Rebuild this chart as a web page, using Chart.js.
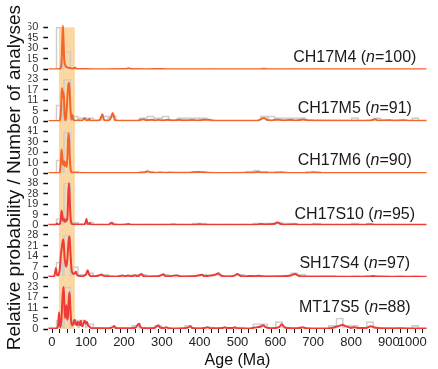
<!DOCTYPE html>
<html>
<head>
<meta charset="utf-8">
<script src="https://cdn.jsdelivr.net/npm/chart.js@4.4.1/dist/chart.umd.min.js"></script>
<style>
html,body{margin:0;padding:0;background:#fff;}
canvas{display:block;}
</style>
</head>
<body>
<canvas id="c" width="438" height="369"></canvas>
<script>
// ---------- DATA ----------
const sampleNames = ["CH17M4", "CH17M5", "CH17M6", "CH17S10", "SH17S4", "MT17S5"];
const sampleN = [100, 91, 90, 95, 97, 88];
const panelMax = [60, 23, 41, 38, 28, 23];          // top tick of each panel
const bandRange = [28, 70];                          // highlighted age window (Ma)
const xTitle = "Age (Ma)";
const yTitle = "Relative probability / Number of analyses";

// histogram bin starts (Ma), 20 Ma bins
const binStarts = [0,20,40,60,80,100,120,140,160,180,200,220,240,260,280,300,320,340,360,380,
  400,420,440,460,480,500,520,540,560,580,600,620,640,660,680,700,720,740,760,780,
  800,820,840,860,880,900,920,940,960,980];

// histogram counts per bin
const histCH17M4 = [0,60,26,2,0,1,0,0,0,0, 2,0,0,1,0,1,0,0,0,0, 0,1,0,0,0,0,0,0,2,0, 0,0,1,0,0,1,0,0,0,0, 0,0,0,1,0,0,0,0,1,0];
const histCH17M5 = [0,9,23,3,2,2,1,3,3,0, 0,0,2,3,2,3,1,2,2,2, 2,1,0,0,0,0,0,0,3,3, 2,2,2,2,1,0,0,0,0,0, 2,0,1,2,1,1,1,0,2,0];
const histCH17M6 = [0,13,40,2,0,0,0,0,0,0, 0,0,2,2,1,1,1,0,1,2, 2,1,1,0,1,0,2,3,2,1, 2,1,0,1,2,2,0,0,1,0, 0,1,0,1,0,0,1,0,0,0];
const histCH17S10 = [1,6,38,3,1,3,1,0,2,1, 1,1,0,1,0,1,1,1,0,2, 2,1,0,1,0,1,0,2,2,2, 3,2,2,1,0,2,1,0,1,0, 2,0,2,1,0,1,0,1,1,0];
const histSH17S4 = [1,10,28,7,2,3,1,2,1,1, 1,2,2,1,1,2,1,1,1,1, 2,1,2,1,1,2,1,1,1,1, 1,1,3,2,0,0,1,1,0,0, 1,0,1,1,1,0,1,0,1,0];
const histMT17S5 = [0,5,23,5,5,3,1,0,1,0, 0,2,1,0,2,1,0,0,2,1, 0,1,0,1,1,1,0,3,3,0, 4,1,0,1,0,0,0,2,6,2, 2,0,4,1,0,0,1,0,2,0];

// probability density curves: [age (Ma), value in panel units]
const pdpCH17M4 = [[0,0.3],[20,0.3],[30,0.5],[33,2],[35,10],[37,40],[38.5,62],[40,45],[42,15],[45,6],[48,3.5],[52,2.5],[56,2],[60,1.5],[64,1],[68,2],[71,2.2],[74,1],[80,0.5],[100,0.4],[150,0.3],[205,0.4],[212,1.5],[220,0.4],[260,0.3],[300,0.6],[310,0.3],[400,0.3],[560,0.3],[570,0.8],[580,0.3],[700,0.3],[1000,0.3]];
const pdpCH17M5 = [[0,0.2],[25,0.2],[30,0.5],[32,2],[34,8],[35.5,16],[37,18],[38.5,13],[40,16],[41.5,12],[43,4],[45,0.5],[47,2],[49,8],[51,15],[53,20],[55,21],[56.5,17],[58,9],[60,3],[62,1],[64,3.5],[66,1.5],[68,0.5],[72,0.3],[80,0.5],[90,0.5],[96,1.8],[100,0.6],[104,0.5],[108,1.2],[112,0.4],[125,0.3],[135,0.5],[140,2.5],[143,3.8],[146,1.5],[150,0.4],[160,0.5],[166,2],[170,4.5],[173,3],[176,0.6],[185,0.3],[230,0.3],[245,0.8],[252,1.1],[260,0.5],[274,0.9],[282,0.4],[291,0.9],[300,0.4],[315,0.8],[330,0.4],[345,0.8],[360,0.4],[380,0.7],[395,0.4],[410,0.8],[425,0.9],[435,0.3],[550,0.3],[562,1.2],[570,1.8],[578,0.8],[590,0.5],[598,0.8],[610,0.9],[620,0.4],[640,0.8],[655,0.4],[675,1],[690,0.4],[850,0.3],[863,1.1],[872,0.4],[900,0.6],[915,0.3],[940,0.6],[955,0.3],[1000,0.3]];
const pdpCH17M6 = [[0,0.2],[28,0.3],[31,2],[33,10],[35,23],[37,16],[39,8],[41,12],[43,7],[45,9],[47,11],[49,6],[51,20],[53,39],[55,33],[57,14],[59,4],[61,1],[64,0.4],[100,0.3],[240,0.3],[255,0.8],[262,2],[268,1],[275,0.4],[290,0.5],[300,0.8],[310,0.4],[320,0.6],[350,0.4],[380,0.8],[395,1.2],[405,1],[420,0.4],[450,0.3],[540,0.4],[553,1.2],[565,0.5],[600,0.4],[620,0.6],[635,0.3],[690,0.3],[700,0.8],[710,0.3],[1000,0.2]];
const pdpCH17S10 = [[0,0.3],[20,0.4],[23,1.5],[26,0.5],[30,0.8],[33,5],[35,13],[37,9],[39,4],[41,6],[43,4],[45,3],[47,5],[49,4],[51,10],[53,30],[55,38],[57,20],[59,6],[61,2],[63,1],[66,0.6],[70,0.8],[80,0.5],[95,0.6],[99,3],[101,5.5],[103,2],[106,0.8],[110,2],[113,0.6],[120,0.4],[160,0.4],[165,1.8],[168,2.2],[172,0.8],[180,0.3],[205,0.5],[212,1],[220,0.3],[320,0.3],[330,0.7],[340,0.3],[390,0.4],[400,0.9],[410,0.4],[550,0.4],[560,1],[575,0.5],[598,1.2],[606,2.4],[614,1],[625,0.4],[645,0.5],[652,0.9],[660,0.4],[695,0.4],[702,0.7],[710,0.3],[840,0.3],[850,0.7],[860,0.3],[1000,0.3]];
const pdpSH17S4 = [[0,0.3],[15,0.4],[18,3],[20,6],[22,2.5],[25,1],[28,2],[31,7],[33,14],[36,20],[39,25],[41,22],[43,13],[46,8],[48,7],[50,11],[52,18],[54,25],[56,27],[58,19],[60,10],[62,4],[64,3],[67,2],[70,2.5],[73,3.5],[76,1.5],[80,0.8],[90,0.6],[100,2],[104,4.5],[108,1.5],[115,0.5],[125,0.6],[135,1.2],[140,1.7],[145,1],[155,0.5],[180,0.3],[190,0.7],[196,1],[202,0.5],[208,0.9],[212,1],[218,0.5],[225,0.8],[230,1],[236,0.5],[242,1.5],[246,2],[252,0.6],[270,0.4],[290,0.5],[300,1.5],[304,1.9],[310,0.6],[320,0.5],[335,1.1],[342,1],[350,0.4],[380,0.5],[395,1],[406,1.5],[412,0.6],[425,0.9],[440,1.5],[450,2.5],[456,1],[470,0.4],[490,0.8],[500,2],[506,1],[520,0.4],[530,0.8],[545,0.6],[555,0.9],[565,0.6],[580,0.4],[620,0.5],[640,1],[652,2],[662,0.8],[680,0.4],[800,0.3],[850,0.4],[858,0.8],[866,0.4],[900,0.3],[1000,0.3]];
const pdpMT17S5 = [[0,0.3],[20,0.3],[25,1],[27,5],[28.5,9],[30,3],[32,1],[35,6],[37,15],[39,21],[40.5,23],[42,16],[44,6],[46,9],[48,13],[50,5],[52,7],[54,16],[56,20],[58,13],[60,5],[62,2.5],[65,2],[68,4.5],[70,5],[72,2.5],[74,3.5],[76,2],[78,4],[80,2.5],[82,3.5],[84,2],[86,4.5],[88,2],[90,1.5],[93,3],[96,4.5],[99,3],[102,4],[105,2],[108,1.5],[112,0.6],[120,0.4],[160,0.4],[170,1],[174,1.6],[178,0.6],[200,0.4],[230,0.7],[236,2.2],[240,2.8],[244,1],[255,0.4],[280,0.5],[287,1.5],[291,2],[295,0.8],[305,0.5],[312,1],[318,0.4],[340,0.3],[370,0.8],[375,1.5],[380,0.6],[400,0.3],[418,0.8],[422,1],[428,0.4],[460,0.5],[466,1],[472,0.5],[488,0.6],[493,1],[498,0.4],[530,0.3],[545,0.8],[552,1],[560,1.2],[568,2],[574,1],[590,0.4],[610,1],[617,2.6],[622,1.5],[630,0.5],[660,0.4],[672,1],[680,0.4],[720,0.3],[750,0.6],[760,1.2],[770,1.8],[778,2.3],[785,1.6],[793,1],[800,0.6],[810,1],[818,0.5],[840,0.6],[852,1.5],[860,1],[875,0.4],[1000,0.3]];

const curves = [pdpCH17M4, pdpCH17M5, pdpCH17M6, pdpCH17S10, pdpSH17S4, pdpMT17S5];
const hists = [histCH17M4, histCH17M5, histCH17M6, histCH17S10, histSH17S4, histMT17S5];

// ---------- STYLE ----------
const FONT = "'Liberation Sans', Arial, Helvetica, sans-serif";
const curveColors = ["#F2652B", "#F2652B", "#F2652B", "#EE3B37", "#EE3B37", "#EE3B37"];
const histColor = "#cdcdcd";
const bandColor = "#FCD7A1";
const panelPx = [59, 53, 53, 53, 53, 53];   // box height of each stacked panel
const dataPx = 43;                           // pixel height from 0 to top tick
const labelLift = [7, 8, 8, 6, 9, 17];
const labelAge = 810;

// ---------- PLUGINS ----------
const bandPlugin = {
  id: 'band',
  beforeDatasetsDraw(chart) {
    const {ctx, chartArea, scales} = chart;
    const x0 = scales.x.getPixelForValue(bandRange[0]);
    const x1 = scales.x.getPixelForValue(bandRange[1]);
    const top = scales.y0.getPixelForValue(panelMax[0]);
    ctx.save();
    ctx.fillStyle = bandColor;
    ctx.fillRect(x0, top, x1 - x0, chartArea.bottom - top);
    ctx.restore();
  }
};

const labelPlugin = {
  id: 'panelLabels',
  afterDatasetsDraw(chart) {
    const {ctx, scales} = chart;
    const normal = "16px " + FONT;
    const italic = "italic 16px " + FONT;
    const cx = scales.x.getPixelForValue(labelAge);
    ctx.save();
    ctx.fillStyle = "#1a1a1a";
    ctx.textBaseline = "alphabetic";
    ctx.textAlign = "left";
    sampleNames.forEach((name, i) => {
      const parts = [[name + " (", normal], ["n", italic], ["=" + sampleN[i] + ")", normal]];
      let w = 0;
      parts.forEach(([t, f]) => { ctx.font = f; w += ctx.measureText(t).width; });
      let x = cx - w / 2;
      const y = scales["y" + i].getPixelForValue(0) - labelLift[i];
      parts.forEach(([t, f]) => { ctx.font = f; ctx.fillText(t, x, y); x += ctx.measureText(t).width; });
    });
    ctx.restore();
  }
};

// ---------- SCALES ----------
function yScale(i) {
  const M = panelMax[i];
  return {
    type: 'linear', position: 'left', stack: 'panels', stackWeight: panelPx[i], weight: 10 - i,
    offset: false, min: 0, max: M * panelPx[i] / dataPx,
    afterBuildTicks: s => { s.ticks = [0, 1, 2, 3, 4].map(k => ({value: M * k / 4})); },
    afterFit: s => { s.width = 20; },
    ticks: {
      autoSkip: false, padding: 5, color: '#333',
      font: {family: FONT, size: 11},
      callback: v => String(Math.floor(v + 1e-9))
    },
    grid: {display: true, drawOnChartArea: false, drawTicks: true, tickLength: 5, tickColor: '#111', tickWidth: 1.5},
    border: {display: false}
  };
}

const scales = {
  x: {
    type: 'linear', position: 'bottom', min: 0, max: 1000, offset: false,
    afterFit: s => { s.height = 40; },
    ticks: {
      stepSize: 20, autoSkip: false, maxRotation: 0, minRotation: 0, align: 'inner', padding: 2,
      color: '#222', font: {family: FONT, size: 13},
      callback: v => { const r = Math.round(v); return (Math.abs(v - r) < 1e-6 && r % 100 === 0) ? String(r) : ''; }
    },
    grid: {display: true, drawOnChartArea: false, drawTicks: true, tickLength: 4, tickColor: '#111', tickWidth: 1},
    border: {display: false},
    title: {display: true, text: xTitle, color: '#111', font: {family: FONT, size: 16, lineHeight: 1}, padding: {top: 0, bottom: 0}}
  }
};
for (let i = 0; i < 6; i++) scales['y' + i] = yScale(i);

// ---------- DATASETS ----------
const datasets = [];
for (let i = 0; i < 6; i++) {
  datasets.push({
    type: 'line',
    data: curves[i].map(([x, y]) => ({x, y})),
    yAxisID: 'y' + i, xAxisID: 'x',
    borderColor: curveColors[i], borderWidth: 2, pointRadius: 0, fill: false,
    cubicInterpolationMode: 'monotone', order: 0
  });
  datasets.push({
    type: 'bar',
    data: binStarts.map((b, k) => ({x: b + 10, y: hists[i][k]})).filter(d => d.y > 0),
    yAxisID: 'y' + i, xAxisID: 'x',
    backgroundColor: 'rgba(0,0,0,0)', borderColor: histColor, borderWidth: 1,
    borderSkipped: 'start', barPercentage: 1, categoryPercentage: 1, grouped: false, order: 1
  });
}

new Chart(document.getElementById('c'), {
  type: 'line',
  data: {datasets},
  options: {
    responsive: false, animation: false, devicePixelRatio: 1, events: [],
    layout: {padding: {top: 5, right: 11.3, bottom: 0, left: 0}},
    scales,
    plugins: {
      legend: {display: false},
      tooltip: {enabled: false},
      title: {
        display: true, position: 'left', align: 'end', text: yTitle, color: '#111',
        font: {family: FONT, size: 19, weight: 'normal', lineHeight: 1.2},
        padding: {top: 3, bottom: 2.5}
      }
    }
  },
  plugins: [bandPlugin, labelPlugin]
});
</script>
</body>
</html>
